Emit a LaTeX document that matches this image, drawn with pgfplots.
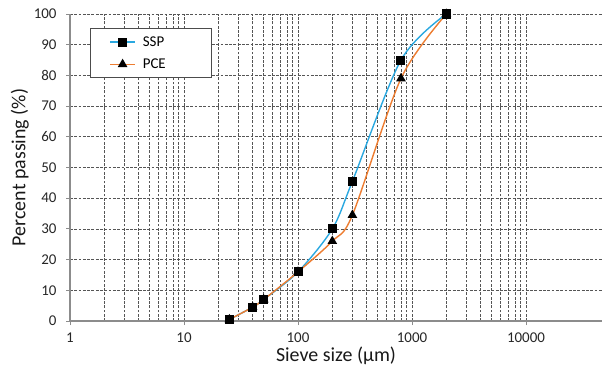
\documentclass[border=0pt]{standalone}
\usepackage{pgfplots}
\pgfplotsset{compat=1.18}
\usepackage{fontspec}
\setmainfont{Carlito}
\definecolor{sspblue}{RGB}{42,168,224}
\definecolor{pceorange}{RGB}{237,125,49}
\definecolor{gridgray}{RGB}{85,85,85}
\definecolor{axgray}{RGB}{140,140,140}
\begin{document}
\begin{tikzpicture}
\path[use as bounding box] (-70bp,-59bp) rectangle (533bp,321bp);
\begin{semilogxaxis}[
  at={(0,0)}, anchor=south west,
  scale only axis,
  width=532bp, height=307bp,
  xmin=1, xmax=46400,
  ymin=0, ymax=100,
  ytick={0,10,...,100},
  xtick={1,10,100,1000,10000},
  xticklabels={1,10,100,1000,10000},
  axis x line=bottom, axis y line=left,
  axis line style={-, axgray, line width=1.1bp},
  tick style={axgray, line width=0.8bp},
  tick align=outside,
  major tick length=4bp,
  minor tick length=0bp,
  grid=both,
  major grid style={gridgray, dashed, dash pattern=on 2.8bp off 1.5bp, line width=0.75bp},
  minor grid style={gridgray, dashed, dash pattern=on 2.8bp off 1.5bp, line width=0.75bp},
  /pgf/number format/assume math mode=true,
  tick label style={font=\fontsize{15}{18}\selectfont, text=black!85},
  yticklabel style={xshift=-6bp},
  xticklabel style={yshift=-4bp},
  xlabel={Sieve size (µm)},
  ylabel={Percent passing (\%)},
  label style={font=\fontsize{20}{24}\selectfont, text=black!90},
  xlabel style={yshift=2bp},
  ylabel style={yshift=-2bp},
  legend style={at={(axis description cs:0.0376,0.954)}, anchor=north west,
    draw=black!70, fill=white, font=\fontsize{15}{17}\selectfont,
    inner xsep=19bp, inner ysep=6bp, row sep=7bp, line width=0.8bp,
    /tikz/every odd column/.append style={column sep=5bp},
    /tikz/every even column/.append style={text width=48bp}},
  legend cell align=left,
  legend image code/.code={\draw[mark repeat=2,mark phase=2,#1] plot coordinates {(0bp,0bp) (12.5bp,0bp) (25bp,0bp)};},
  clip=false,
]
\addplot[sspblue, line width=1.4bp, smooth, mark=square*, mark size=3.8bp,
  mark options={fill=black, draw=black, solid}] coordinates {
  (25,0.5) (40,4.5) (50,7) (100,16) (200,30) (300,45.5) (800,85) (2000,100)};
\addlegendentry{SSP}
\addplot[pceorange, line width=1.4bp, smooth, mark=triangle*, mark size=4.2bp,
  mark options={fill=black, draw=black, solid}] coordinates {
  (25,0.5) (40,4.5) (50,7) (100,16) (200,26) (300,34.5) (800,79) (2000,100)};
\addlegendentry{PCE}
\addplot[only marks, mark=square*, mark size=3.8bp,
  mark options={fill=black, draw=black, solid}, forget plot] coordinates {
  (25,0.5) (40,4.5) (50,7) (100,16) (2000,100)};
\end{semilogxaxis}
\end{tikzpicture}
\end{document}
